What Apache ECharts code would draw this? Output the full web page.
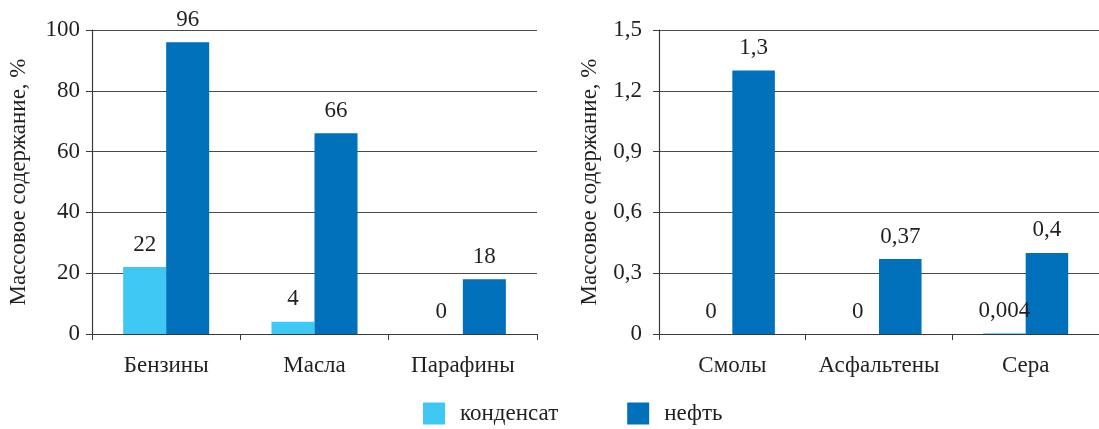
<!DOCTYPE html>
<html>
<head>
<meta charset="utf-8">
<script src="https://cdn.jsdelivr.net/npm/echarts@6/dist/echarts.min.js"></script>
<style>
  html, body { margin: 0; padding: 0; background: #fff; }
  #chart { width: 1099px; height: 429px; }
</style>
</head>
<body>
<div id="chart"></div>
<script>
// Mass content of fractions: gas condensate vs crude oil
const leftCategories = ['Бензины', 'Масла', 'Парафины'];
const leftCondensate = [22, 4, 0];
const leftOil = [96, 66, 18];
const leftTicks = { min: 0, max: 100, interval: 20 };

const rightCategories = ['Смолы', 'Асфальтены', 'Сера'];
const rightCondensate = [0, 0, 0.004];
const rightOil = [1.3, 0.37, 0.4];
const rightTicks = { min: 0, max: 1.5, interval: 0.3 };

const yName = 'Массовое содержание, %';
const seriesNames = ['конденсат', 'нефть'];
const colors = ['#40C8F4', '#0070BB'];

const FONT = '"Liberation Serif", "Times New Roman", serif';
const FS = 23;
const TEXT = '#231F20';
const comma = v => String(v).replace('.', ',');

function xAxis(gridIndex, data) {
  return {
    type: 'category', gridIndex, data,
    axisLine: { lineStyle: { color: '#3a3a3a', width: 1.2 } },
    axisTick: { show: true, length: 6, alignWithLabel: false, lineStyle: { color: '#3a3a3a' } },
    axisLabel: { color: TEXT, fontFamily: FONT, fontSize: FS, margin: 20, interval: 0 },
    splitLine: { show: false }
  };
}

function yAxis(gridIndex, ticks, fmt, gap, margin) {
  return {
    type: 'value', gridIndex,
    min: ticks.min, max: ticks.max, interval: ticks.interval,
    name: yName, nameLocation: 'middle', nameGap: gap, nameRotate: 90,
    nameTextStyle: { color: TEXT, fontFamily: FONT, fontSize: FS },
    axisLine: { show: true, lineStyle: { color: '#3a3a3a', width: 1.2 } },
    axisTick: { show: true, length: 6, lineStyle: { color: '#3a3a3a' } },
    axisLabel: { color: TEXT, fontFamily: FONT, fontSize: FS, margin, formatter: fmt },
    splitLine: { show: true, lineStyle: { color: '#4a4a4a', width: 1.2 } }
  };
}

function bars(name, data, axisIndex, color) {
  return {
    name, type: 'bar', data,
    xAxisIndex: axisIndex, yAxisIndex: axisIndex,
    barGap: '0%', barCategoryGap: '42%',
    itemStyle: { color },
    label: {
      show: true, position: 'top', distance: 11,
      color: TEXT, fontFamily: FONT, fontSize: FS,
      formatter: p => comma(p.value)
    }
  };
}

const chart = echarts.init(document.getElementById('chart'));
chart.setOption({
  animation: false,
  textStyle: { fontFamily: FONT },
  grid: [
    { left: 92, right: 1099 - 537, top: 30, bottom: 95 },
    { left: 659, right: -4, top: 30, bottom: 95 }
  ],
  xAxis: [xAxis(0, leftCategories), xAxis(1, rightCategories)],
  yAxis: [
    yAxis(0, leftTicks, v => String(v), 62, 12),
    yAxis(1, rightTicks, v => (v === 0 ? '0' : comma(v.toFixed(1))), 58, 17)
  ],
  legend: {
    data: seriesNames,
    left: 423, top: 402, padding: 0,
    itemWidth: 22, itemHeight: 22, itemGap: 69,
    icon: 'rect',
    textStyle: { color: TEXT, fontFamily: FONT, fontSize: FS, padding: [0, 0, 0, 10] }
  },
  series: [
    bars(seriesNames[0], leftCondensate, 0, colors[0]),
    bars(seriesNames[1], leftOil, 0, colors[1]),
    bars(seriesNames[0], rightCondensate, 1, colors[0]),
    bars(seriesNames[1], rightOil, 1, colors[1])
  ]
});
</script>
</body>
</html>
